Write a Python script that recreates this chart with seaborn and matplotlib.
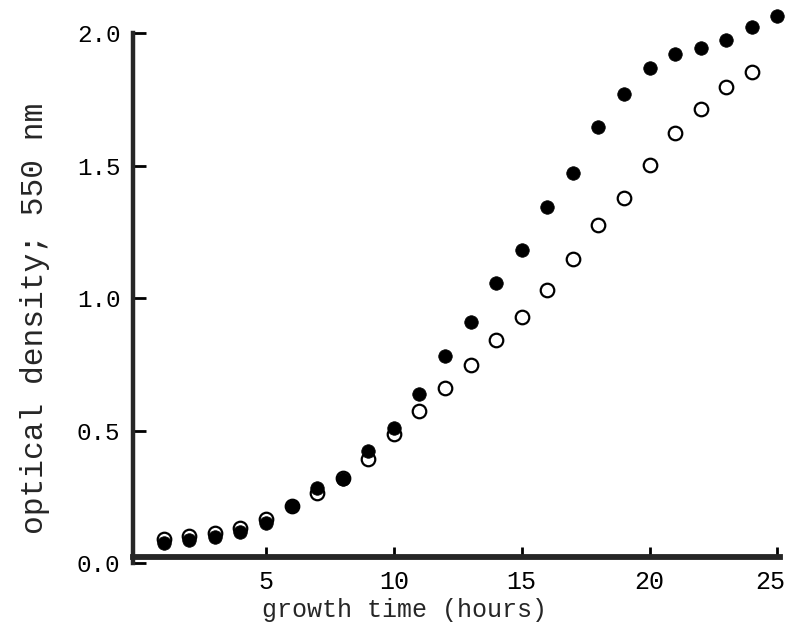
import matplotlib
matplotlib.use("Agg")
import matplotlib.pyplot as plt
import matplotlib.transforms as mtransforms
import seaborn as sns
import pandas as pd

# growth time (hours)
hours_filled = [1, 2, 3, 4, 5, 6, 7, 8, 9, 10, 11, 12, 13, 14, 15, 16, 17, 18, 19, 20, 21, 22, 23, 24, 25]
od_filled = [0.075, 0.087, 0.098, 0.117, 0.151, 0.215, 0.283, 0.317, 0.423, 0.509,
             0.638, 0.781, 0.909, 1.057, 1.181, 1.343, 1.472, 1.645, 1.770, 1.868,
             1.921, 1.943, 1.974, 2.023, 2.064]

hours_open = [1, 2, 3, 4, 5, 6, 7, 8, 9, 10, 11, 12, 13, 14, 15, 16, 17, 18, 19, 20, 21, 22, 23, 24]
od_open = [0.091, 0.102, 0.113, 0.132, 0.166, 0.215, 0.264, 0.321, 0.392, 0.487,
           0.574, 0.660, 0.747, 0.842, 0.928, 1.030, 1.147, 1.275, 1.377, 1.502,
           1.623, 1.713, 1.796, 1.853]

x_ticks = [5, 10, 15, 20, 25]
y_ticks = [0.0, 0.5, 1.0, 1.5, 2.0]
y_tick_labels = ["0.0", "0.5", "1.0", "1.5", "2.0"]

df_filled = pd.DataFrame({"hours": hours_filled, "od": od_filled})
df_open = pd.DataFrame({"hours": hours_open, "od": od_open})

sns.set_theme(style="ticks")
plt.rcParams["font.family"] = ["Liberation Mono", "DejaVu Sans Mono"]

fig = plt.figure(figsize=(7.87, 6.33), dpi=100)
ax = fig.add_axes([133 / 787, (633 - 563) / 633, (780 - 133) / 787, (563 - 33) / 633])

sns.scatterplot(data=df_open, x="hours", y="od", ax=ax, s=95, marker="o",
                color="white", edgecolor="black", linewidth=1.6, clip_on=False, zorder=3)
sns.scatterplot(data=df_filled, x="hours", y="od", ax=ax, s=95, marker="o",
                color="black", edgecolor="black", linewidth=0.5, clip_on=False, zorder=4)

ax.set_xlim(-0.2, 25.1)
ax.set_ylim(0, 2.0)
ax.set_xticks(x_ticks)
ax.set_xticklabels([str(t) for t in x_ticks])
ax.set_yticks(y_ticks)
ax.set_yticklabels(y_tick_labels)

for side in ["top", "right"]:
    ax.spines[side].set_visible(False)
ax.spines["left"].set_linewidth(3.2)
ax.spines["bottom"].set_linewidth(4.2)
ax.spines["bottom"].set_position(("data", 0.022))

ax.tick_params(axis="both", direction="in", width=2, colors="black")
ax.tick_params(axis="x", length=7, pad=9, labelsize=18)
ax.tick_params(axis="y", length=9, pad=9, labelsize=17.5)

# shift the last x tick label left so it stays inside the figure, as in the reference
last = ax.get_xticklabels()[-1]
last.set_transform(last.get_transform() + mtransforms.ScaledTranslation(-7 / 100, 0, fig.dpi_scale_trans))

ax.set_xlabel("growth time (hours)", fontsize=18)
ax.xaxis.set_label_coords(0.42, -0.066)
ax.set_ylabel("optical density; 550 nm", fontsize=22.5)
ax.yaxis.set_label_coords(-0.128, 0.462)

fig.savefig("out.png", dpi=100, facecolor="white")
